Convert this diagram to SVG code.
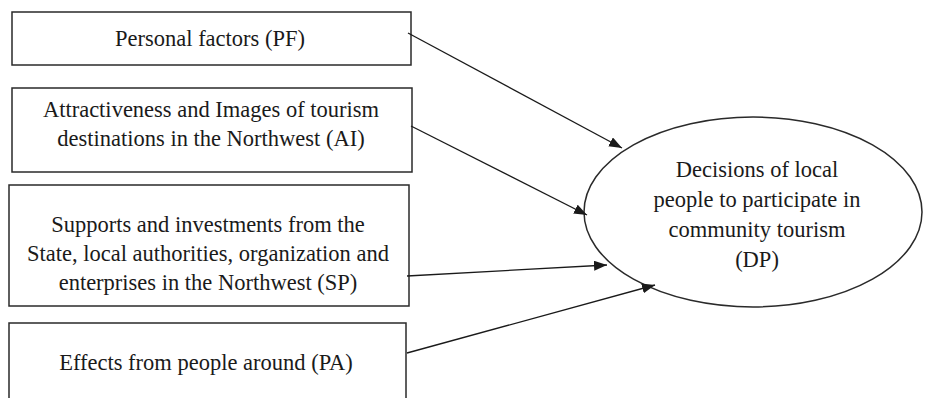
<svg xmlns="http://www.w3.org/2000/svg" width="936" height="398" viewBox="0 0 936 398">
<defs>
<style>
.box{fill:#fff;stroke:#2a2a2a;stroke-width:1.5}
.t{font-family:"Liberation Serif","Times New Roman",serif;font-size:22.5px;fill:#1a1a1a;text-anchor:middle}
.c{stroke:#1a1a1a;stroke-width:1.3;fill:none;marker-end:url(#ah)}
</style>
<marker id="ah" markerUnits="userSpaceOnUse" markerWidth="14" markerHeight="12" refX="13" refY="5" orient="auto">
<path d="M0,0 L13,5 L0,10 Z" fill="#1a1a1a"/>
</marker>
</defs>
<rect width="936" height="398" fill="#fff"/>
<g id="PF">
<rect class="box" x="12" y="12" width="399" height="53"/>
<text class="t" x="210" y="46">Personal factors (PF)</text>
</g>
<g id="AI">
<rect class="box" x="12" y="88" width="400" height="84"/>
<text class="t" x="211" y="117">Attractiveness and Images of tourism</text>
<text class="t" x="211" y="146">destinations in the Northwest (AI)</text>
</g>
<g id="SP">
<rect class="box" x="9" y="185" width="400" height="121"/>
<text class="t" x="208" y="232">Supports and investments from the</text>
<text class="t" x="208" y="261">State, local authorities, organization and</text>
<text class="t" x="208" y="290">enterprises in the Northwest (SP)</text>
</g>
<g id="PA">
<rect class="box" x="9" y="323" width="397" height="90"/>
<text class="t" x="206" y="370">Effects from people around (PA)</text>
</g>
<g id="DP">
<ellipse class="box" cx="753" cy="212" rx="169" ry="95"/>
<text class="t" x="757" y="177">Decisions of local</text>
<text class="t" x="757" y="207">people to participate in</text>
<text class="t" x="757" y="237">community tourism</text>
<text class="t" x="757" y="267">(DP)</text>
</g>
<g id="connectors">
<line class="c" x1="408" y1="33" x2="622" y2="148"/>
<line class="c" x1="411" y1="126" x2="587" y2="215"/>
<line class="c" x1="407" y1="276" x2="607" y2="265"/>
<line class="c" x1="407" y1="353" x2="655" y2="285"/>
</g>
</svg>
